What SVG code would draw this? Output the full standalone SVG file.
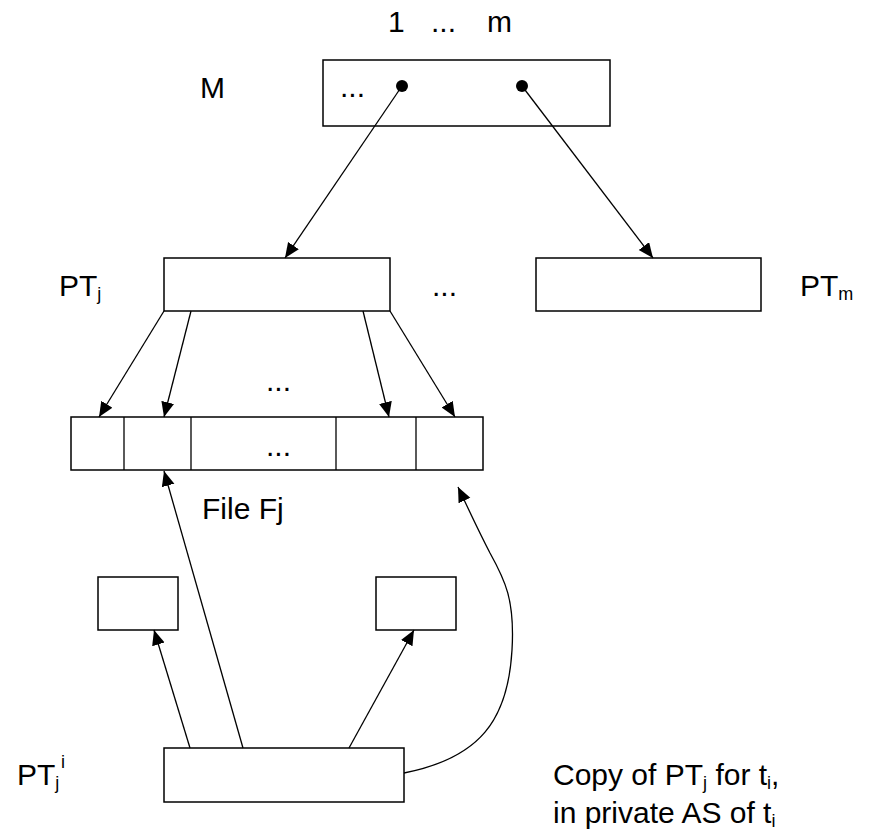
<svg xmlns="http://www.w3.org/2000/svg" width="877" height="836" viewBox="0 0 877 836">
<style>
text{font-family:"Liberation Sans",Arial,sans-serif;font-size:30px;fill:#000}
.s{font-size:18px}
.box{fill:#fff;stroke:#000;stroke-width:1.5}
.ln{fill:none;stroke:#000;stroke-width:1.3}
</style>
<defs>
<marker id="ah" markerUnits="userSpaceOnUse" markerWidth="16" markerHeight="14" refX="15" refY="6.5" orient="auto">
<path d="M0,0 L15,6.5 L0,13 z" fill="#000"/>
</marker>
</defs>
<rect width="877" height="836" fill="#fff"/>
<g id="labels">
<text x="388" y="32">1</text>
<text x="431" y="32">...</text>
<text x="487" y="32">m</text>
<text x="200" y="98">M</text>
<text x="59" y="296">PT<tspan class="s" dy="4">j</tspan></text>
<text x="432" y="296">...</text>
<text x="800" y="296">PT<tspan class="s" dy="4">m</tspan></text>
<text x="266" y="391">...</text>
<text x="202" y="519">File Fj</text>
<text x="17" y="785">PT<tspan class="s" dy="4">j</tspan><tspan class="s" x="61" dy="-21">i</tspan></text>
<text x="553" y="785">Copy of PT<tspan class="s" dy="4">j</tspan><tspan dy="-4"> for t</tspan><tspan class="s" dy="4">i</tspan><tspan dy="-4">,</tspan></text>
<text x="553" y="823">in private AS of t<tspan class="s" dy="4">i</tspan></text>
</g>
<g id="M">
<rect class="box" x="323" y="60" width="287" height="66"/>
<text x="340" y="97">...</text>
<circle cx="402" cy="86" r="6"/>
<circle cx="522" cy="86" r="6"/>
</g>
<g id="PTj"><rect class="box" x="164" y="258" width="226" height="53"/></g>
<g id="PTm"><rect class="box" x="536" y="258" width="225" height="53"/></g>
<g id="FileFj">
<rect class="box" x="71" y="417" width="412" height="53"/>
<line class="ln" x1="124" y1="417" x2="124" y2="470"/>
<line class="ln" x1="191" y1="417" x2="191" y2="470"/>
<line class="ln" x1="336" y1="417" x2="336" y2="470"/>
<line class="ln" x1="416" y1="417" x2="416" y2="470"/>
<text x="266" y="456">...</text>
</g>
<g id="boxL"><rect class="box" x="98" y="577" width="80" height="53"/></g>
<g id="boxR"><rect class="box" x="376" y="577" width="80" height="53"/></g>
<g id="PTji"><rect class="box" x="164" y="748" width="240" height="54"/></g>
<g id="connectors">
<line class="ln" x1="402" y1="86" x2="285" y2="258" marker-end="url(#ah)"/>
<line class="ln" x1="522" y1="86" x2="653" y2="258" marker-end="url(#ah)"/>
<line class="ln" x1="164" y1="311" x2="99" y2="417" marker-end="url(#ah)"/>
<line class="ln" x1="191" y1="311" x2="164" y2="417" marker-end="url(#ah)"/>
<line class="ln" x1="363" y1="311" x2="389" y2="417" marker-end="url(#ah)"/>
<line class="ln" x1="390" y1="311" x2="455" y2="417" marker-end="url(#ah)"/>
<line class="ln" x1="190" y1="748" x2="154" y2="630" marker-end="url(#ah)"/>
<line class="ln" x1="243" y1="748" x2="164" y2="471" marker-end="url(#ah)"/>
<line class="ln" x1="349" y1="748" x2="414" y2="630" marker-end="url(#ah)"/>
<path class="ln" d="M404,773 C480,758 508,720 512,650 C515,600 505,580 490,553 C478,530 468,508 458,487" marker-end="url(#ah)"/>
</g>
</svg>
